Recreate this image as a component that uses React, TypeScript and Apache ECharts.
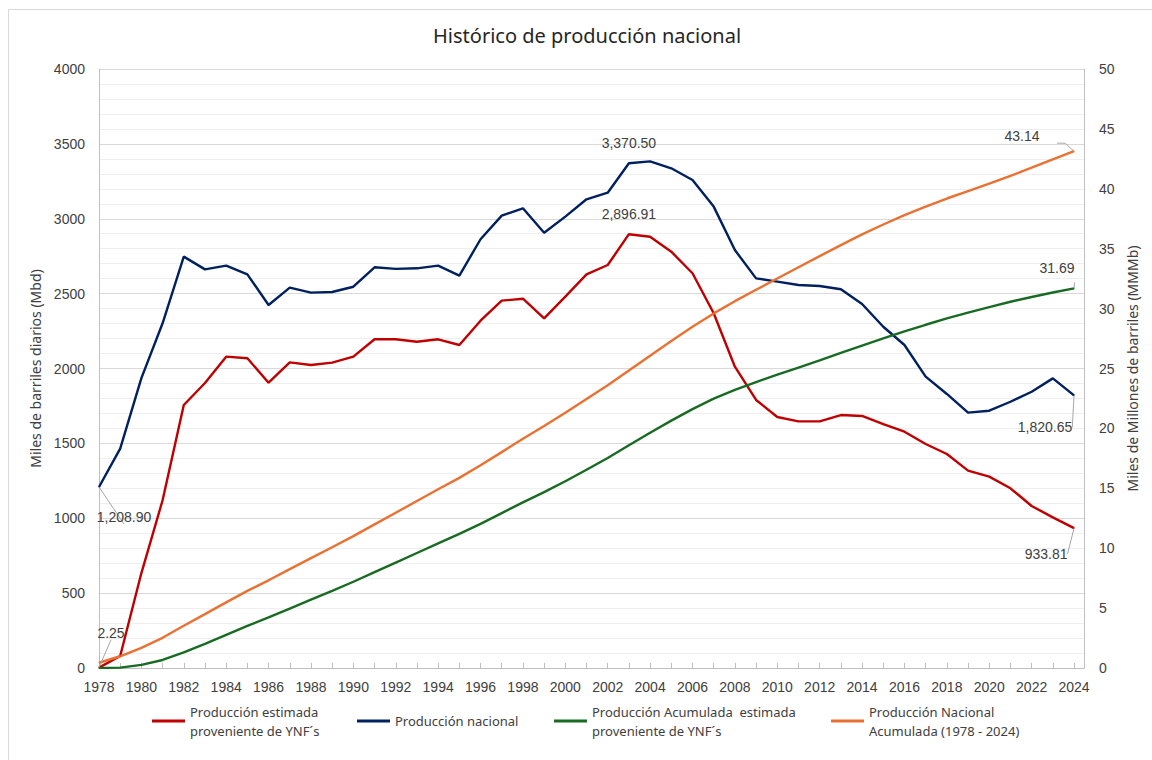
import { useEffect, useRef } from "react";
import * as echarts from "echarts";

const years = [
  1978, 1979, 1980, 1981, 1982, 1983, 1984, 1985, 1986, 1987, 1988, 1989,
  1990, 1991, 1992, 1993, 1994, 1995, 1996, 1997, 1998, 1999, 2000, 2001,
  2002, 2003, 2004, 2005, 2006, 2007, 2008, 2009, 2010, 2011, 2012, 2013,
  2014, 2015, 2016, 2017, 2018, 2019, 2020, 2021, 2022, 2023, 2024,
];

// Miles de barriles diarios (eje izquierdo)
const produccionEstimadaYNF = [
  2.25, 80, 634, 1120, 1756, 1903, 2079, 2068, 1905, 2041, 2023, 2039, 2079,
  2195, 2195, 2179, 2195, 2157, 2319, 2453, 2466, 2335, 2480, 2629, 2691,
  2896.91, 2880, 2780, 2636, 2369, 2012, 1790, 1676, 1647, 1647, 1689, 1683,
  1629, 1578, 1496, 1429, 1318, 1278, 1200, 1082, 1006, 933.81,
];

const produccionNacional = [
  1208.9, 1465, 1936, 2302, 2747, 2662, 2687, 2629, 2424, 2540, 2507, 2511,
  2546, 2676, 2665, 2669, 2687, 2620, 2863, 3021, 3070, 2907, 3014, 3130, 3174,
  3370.5, 3383, 3337, 3259, 3081, 2791, 2602, 2580, 2558, 2551, 2529, 2431,
  2279, 2157, 1946, 1830, 1705, 1718, 1778, 1845, 1934, 1820.65,
];

// Miles de millones de barriles (eje derecho)
const acumuladaYNF = [
  0.0, 0.03, 0.26, 0.67, 1.31, 2.01, 2.77, 3.52, 4.22, 4.96, 5.7, 6.44, 7.2,
  8.0, 8.8, 9.6, 10.4, 11.19, 12.03, 12.93, 13.83, 14.68, 15.59, 16.55, 17.53,
  18.59, 19.64, 20.65, 21.61, 22.48, 23.21, 23.87, 24.48, 25.08, 25.68, 26.3,
  26.91, 27.51, 28.1, 28.65, 29.18, 29.66, 30.13, 30.57, 30.97, 31.34, 31.69,
];

const acumuladaNacional = [
  0.44, 0.98, 1.68, 2.52, 3.53, 4.5, 5.48, 6.44, 7.32, 8.25, 9.17, 10.08,
  11.01, 11.99, 12.96, 13.94, 14.92, 15.87, 16.92, 18.02, 19.14, 20.2, 21.3,
  22.45, 23.6, 24.83, 26.07, 27.29, 28.48, 29.6, 30.62, 31.57, 32.51, 33.45,
  34.38, 35.3, 36.19, 37.02, 37.81, 38.52, 39.19, 39.81, 40.43, 41.08, 41.76,
  42.46, 43.14,
];

const seriesNames = [
  "Producción estimada\nproveniente de YNF´s",
  "Producción nacional",
  "Producción Acumulada  estimada\nproveniente de YNF´s",
  "Producción Nacional\nAcumulada (1978 - 2024)",
];
const seriesColors = ["#C00000", "#002060", "#196B24", "#E97132"];
const seriesValues = [
  produccionEstimadaYNF,
  produccionNacional,
  acumuladaYNF,
  acumuladaNacional,
];
const seriesAxis = [0, 0, 1, 1];

const title = "Histórico de producción nacional";
const leftAxisName = "Miles de barriles diarios (Mbd)";
const rightAxisName = "Miles de Millones de barriles (MMMb)";

// labelled points: series index, year, label offset (px), leader line
const annotations = [
  { s: 1, year: 1978, offset: [25, 30], line: true, len2: 0 },
  { s: 0, year: 1978, offset: [12, -35], line: true, len2: 0 },
  { s: 1, year: 2003, offset: [0, -20], line: false, len2: 0 },
  { s: 0, year: 2003, offset: [0, -20], line: false, len2: 0 },
  { s: 3, year: 2024, offset: [-52, -15], line: true, len2: 8 },
  { s: 2, year: 2024, offset: [-17, -20], line: true, len2: 0 },
  { s: 1, year: 2024, offset: [-29, 32], line: true, len2: 0 },
  { s: 0, year: 2024, offset: [-28, 26], line: true, len2: 0 },
];

const legendPos = [
  { left: 152, lines: 2 },
  { left: 357, lines: 1 },
  { left: 554, lines: 2 },
  { left: 831, lines: 2 },
];

const fmt = (v: number) =>
  v.toLocaleString("en-US", { minimumFractionDigits: 2, maximumFractionDigits: 2 });

const AXIS_FONT = "'Liberation Sans', Arial, sans-serif";
const UI_FONT = "'Noto Sans', sans-serif";
const TEXT = "#404040";

export default function App() {
  const ref = useRef<HTMLDivElement>(null);
  useEffect(() => {
    const chart = echarts.init(ref.current!, null, { renderer: "svg" });
    const LH = 19;
    const series = seriesValues.map((vals, s) => ({
      type: "line",
      name: seriesNames[s],
      yAxisIndex: seriesAxis[s],
      color: seriesColors[s],
      showSymbol: true,
      symbol: "circle",
      symbolSize: 1,
      lineStyle: { width: 2.4, color: seriesColors[s] },
      itemStyle: { color: seriesColors[s] },
      emphasis: { disabled: true },
      data: vals.map((v, i) => {
        const a = annotations.find((x) => x.s === s && x.year === years[i]);
        if (!a) return [years[i], v];
        return {
          value: [years[i], v],
          label: {
            show: true,
            position: "inside",
            offset: a.offset,
            formatter: () => fmt(v),
            color: TEXT,
            fontSize: 14,
            fontFamily: AXIS_FONT,
          },
          labelLine: {
            show: a.line,
            length2: a.len2,
            lineStyle: { color: "#A6A6A6", width: 1 },
          },
        };
      }),
    }));

    const legends = legendPos.map((p, s) => ({
      data: [seriesNames[s]],
      left: p.left,
      top: p.lines === 2 ? 692.5 : 711.5,
      padding: 0,
      icon: "rect",
      itemWidth: 33,
      itemHeight: 3,
      selectedMode: false,
      textStyle: {
        fontFamily: UI_FONT,
        fontSize: 13,
        color: TEXT,
        lineHeight: LH,
        padding: [p.lines === 2 ? LH : 0, 0, 0, 0],
      },
    }));

    chart.setOption({
      animation: false,
      backgroundColor: "#ffffff",
      title: {
        text: title,
        left: 428,
        top: 20,
        textStyle: { fontFamily: UI_FONT, fontSize: 20, fontWeight: "normal", color: "#262626" },
      },
      graphic: [
        {
          type: "rect",
          left: 6,
          top: 7,
          shape: { width: 1200, height: 800 },
          style: { fill: "none", stroke: "#D9D9D9", lineWidth: 1 },
          silent: true,
        },
      ],
      legend: legends,
      grid: { left: 99, right: 68, top: 69, bottom: 92 },
      xAxis: {
        type: "value",
        min: 1978,
        max: 2024.47,
        interval: 1,
        axisLine: { show: true, lineStyle: { color: "#BFBFBF", width: 1 } },
        axisTick: { show: true, inside: true, length: 5, lineStyle: { color: "#BFBFBF" } },
        splitLine: { show: false },
        axisLabel: {
          margin: 12,
          fontSize: 14,
          fontFamily: AXIS_FONT,
          color: TEXT,
          showMaxLabel: false,
          formatter: (v: number) =>
            Number.isInteger(v) && v % 2 === 0 && v <= 2024 ? String(v) : "",
        },
      },
      yAxis: [
        {
          type: "value",
          min: 0,
          max: 4000,
          interval: 500,
          name: leftAxisName,
          nameLocation: "middle",
          nameGap: 53,
          nameRotate: 90,
          nameTextStyle: { fontFamily: UI_FONT, fontSize: 14, color: TEXT },
          axisLine: { show: true, lineStyle: { color: "#BFBFBF" } },
          axisTick: { show: false },
          axisLabel: {
            margin: 14,
            fontSize: 14,
            fontFamily: AXIS_FONT,
            color: TEXT,
            formatter: (v: number) => String(v),
          },
          splitLine: { show: true, lineStyle: { color: "#D9D9D9", width: 1 } },
          minorTick: { show: false, splitNumber: 5 },
          minorSplitLine: { show: true, lineStyle: { color: "#EFEFEF", width: 1 } },
        },
        {
          type: "value",
          min: 0,
          max: 50,
          interval: 5,
          name: rightAxisName,
          nameLocation: "middle",
          nameGap: 41,
          nameRotate: 90,
          nameTextStyle: { fontFamily: UI_FONT, fontSize: 14, color: TEXT },
          axisLine: { show: true, lineStyle: { color: "#BFBFBF" } },
          axisTick: { show: false },
          axisLabel: {
            margin: 15,
            fontSize: 14,
            fontFamily: AXIS_FONT,
            color: TEXT,
            formatter: (v: number) => String(v),
          },
          splitLine: { show: false },
        },
      ],
      series,
    });
    return () => chart.dispose();
  }, []);
  return (
    <div
      ref={ref}
      style={{ position: "absolute", left: 0, top: 0, width: 1152, height: 760, background: "#fff" }}
    />
  );
}
